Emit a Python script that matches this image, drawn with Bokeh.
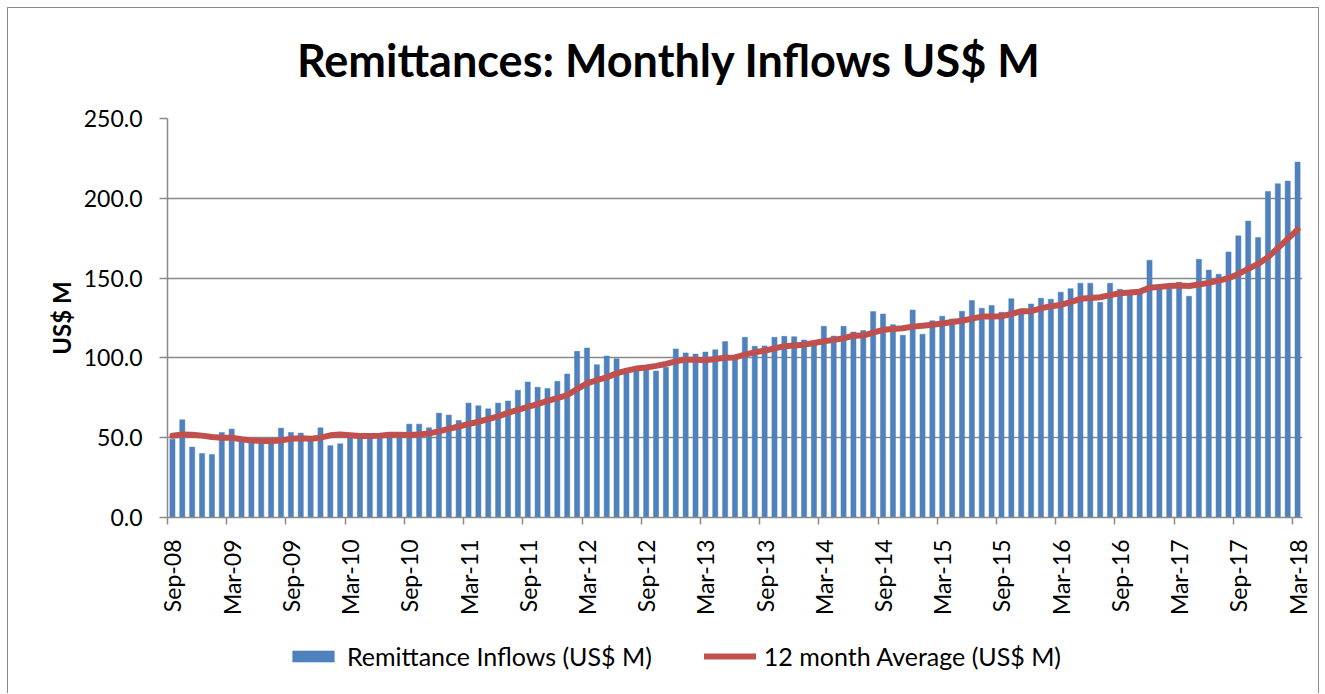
import math
from bokeh.plotting import figure
from bokeh.layouts import column
from bokeh.models import (Legend, LegendItem, FixedTicker, Label,
                          NumeralTickFormatter, ColumnDataSource)
from bokeh.embed import file_html
from bokeh.resources import INLINE

# ---------------- data ----------------
# monthly observations, Sep-2008 .. Mar-2018 (115 months)
inflows = [
    49.0, 61.2, 44.1, 40.1, 39.5, 53.3, 55.4, 48.0, 47.0, 46.5, 47.0, 56.0,
    53.3, 52.9, 48.0, 56.2, 45.0, 46.2, 50.0, 51.0, 51.0, 52.0, 52.0, 52.0,
    58.5, 58.5, 56.2, 65.4, 64.2, 60.8, 71.7, 70.0, 68.1, 71.7, 73.0, 79.7,
    84.9, 81.6, 80.9, 85.3, 89.9, 104.1, 106.2, 95.7, 101.2, 99.5, 91.0, 92.0,
    93.0, 91.8, 94.1, 105.6, 103.1, 102.4, 103.7, 105.1, 110.2, 99.5, 112.9, 107.3,
    107.5, 112.9, 113.5, 113.3, 111.2, 108.0, 119.8, 113.7, 119.8, 116.2, 117.1, 129.0,
    127.5, 120.8, 114.2, 130.0, 114.8, 123.3, 126.1, 124.4, 129.2, 135.9, 131.1, 132.8,
    128.6, 137.1, 130.7, 133.8, 137.4, 136.8, 141.2, 143.4, 146.8, 146.8, 134.8, 146.8,
    143.0, 140.5, 140.7, 161.2, 144.0, 143.2, 147.4, 138.6, 161.8, 155.0, 152.4, 166.4,
    176.5, 185.7, 175.4, 204.3, 209.1, 210.8, 222.7,
]
avg12 = [
    51.2, 52.0, 51.8, 51.3, 50.5, 50.0, 50.0, 49.0, 48.3, 48.0, 48.0, 48.2,
    49.4, 49.6, 49.3, 50.0, 51.5, 52.0, 51.5, 51.0, 51.0, 51.3, 51.8, 51.8,
    51.7, 52.0, 52.7, 54.0, 55.5, 57.0, 58.5, 60.0, 61.7, 63.4, 65.5, 67.5,
    69.3, 71.1, 73.0, 74.8, 76.7, 80.5, 84.0, 86.0, 87.8, 90.3, 92.0, 93.3,
    94.0, 95.0, 96.2, 97.8, 98.9, 98.8, 98.5, 99.3, 100.1, 100.3, 102.0, 103.5,
    104.5, 106.0, 107.3, 107.8, 108.3, 109.3, 110.4, 111.3, 112.3, 113.9, 114.0, 115.8,
    117.6, 118.1, 118.6, 119.6, 120.2, 120.8, 121.6, 122.5, 123.3, 124.6, 125.9, 126.0,
    126.1, 127.6, 129.2, 129.3, 131.0, 132.4, 133.2, 135.0, 137.0, 137.5, 138.0, 139.3,
    140.5, 141.0, 141.5, 143.9, 144.5, 145.1, 145.3, 145.1, 146.0, 147.0, 148.4, 149.9,
    152.6, 155.8, 158.9, 163.1, 168.8, 174.6, 180.4,
]
tick_labels = ["Sep-08", "Mar-09", "Sep-09", "Mar-10", "Sep-10", "Mar-11", "Sep-11",
               "Mar-12", "Sep-12", "Mar-13", "Sep-13", "Mar-14", "Sep-14", "Mar-15",
               "Sep-15", "Mar-16", "Sep-16", "Mar-17", "Sep-17", "Mar-18"]
y_ticks = [0, 50, 100, 150, 200, 250]
title_text = "Remittances: Monthly Inflows US$ M"
y_title = "US$ M"
series_names = ["Remittance Inflows (US$ M)", "12 month Average (US$ M)"]

# ---------------- styles ----------------
n = len(inflows)
idx = list(range(n))
src = ColumnDataSource(dict(x=idx, inflows=inflows, avg=avg12))

FONT = "Lato"
GRID = "#8A8A8A"
BLUE = "#4F81BD"
RED = "#C0504D"
BORDER = "1px solid #8A8A8A"
X_RANGE = (-0.5, n - 0.5)


def strip(height, y_range):
    f = figure(width=1312, height=height, x_range=X_RANGE, y_range=y_range,
               output_backend="svg", toolbar_location=None, title=None,
               x_axis_type=None, y_axis_type=None,
               min_border_left=159, min_border_right=18, min_border_top=0,
               min_border_bottom=0)
    f.outline_line_color = None
    f.xgrid.grid_line_color = None
    f.ygrid.grid_line_color = None
    return f


# ---------------- title strip ----------------
head = strip(97, (0, 97))
head.styles = {"margin-left": "7px", "margin-top": "7px",
               "border-top": BORDER, "border-left": BORDER, "border-right": BORDER}
head.add_layout(Label(x=50.3, y=46, text=title_text, text_font=FONT,
                      text_font_style="bold", text_font_size="45px",
                      text_align="center", text_baseline="alphabetic",
                      text_color="black"))

# ---------------- main chart ----------------
p = figure(width=1312, height=533, x_range=X_RANGE, y_range=(0, 250),
           output_backend="svg", toolbar_location=None, title=None,
           min_border_left=159, min_border_right=18, min_border_top=14,
           min_border_bottom=120)
p.styles = {"margin-left": "7px", "border-left": BORDER, "border-right": BORDER}
p.outline_line_color = None
p.background_fill_color = "white"
p.border_fill_color = "white"

bar_style = dict(fill_color=BLUE, line_color=BLUE, line_width=0.5)
line_style = dict(line_color=RED, line_width=6, line_join="round", line_cap="round")

p.vbar(x="x", top="inflows", width=0.52, source=src, **bar_style)
p.line(x="x", y="avg", source=src, **line_style)

# x axis
tick_pos = [6 * k for k in range(len(tick_labels))]
p.xaxis.ticker = FixedTicker(ticks=tick_pos,
                             minor_ticks=[t - 0.5 for t in tick_pos])
p.xaxis.major_label_overrides = {t: lab for t, lab in zip(tick_pos, tick_labels)}
p.xaxis.major_label_orientation = math.pi / 2
p.xaxis.major_tick_line_color = None
p.xaxis.major_tick_out = 0
p.xaxis.major_tick_in = 0
p.xaxis.minor_tick_line_color = GRID
p.xaxis.minor_tick_line_width = 1.5
p.xaxis.minor_tick_out = 7
p.xaxis.minor_tick_in = 0
p.xaxis.major_label_standoff = 15
p.xaxis.major_label_text_font = FONT
p.xaxis.major_label_text_font_size = "23px"
p.xaxis.major_label_text_color = "black"
p.xaxis.axis_line_color = GRID
p.xaxis.axis_line_width = 1.5

# y axis
p.yaxis.ticker = FixedTicker(ticks=y_ticks)
p.yaxis.formatter = NumeralTickFormatter(format="0.0")
p.yaxis.major_label_text_font = FONT
p.yaxis.major_label_text_font_size = "23px"
p.yaxis.major_label_text_color = "black"
p.yaxis.major_label_standoff = 17
p.yaxis.major_tick_out = 8
p.yaxis.major_tick_in = 0
p.yaxis.major_tick_line_color = GRID
p.yaxis.major_tick_line_width = 1.5
p.yaxis.minor_tick_line_color = None
p.yaxis.axis_line_color = GRID
p.yaxis.axis_line_width = 1.5
p.yaxis.axis_label = y_title
p.yaxis.axis_label_text_font = FONT
p.yaxis.axis_label_text_font_style = "bold"
p.yaxis.axis_label_text_font_size = "24px"
p.yaxis.axis_label_text_color = "black"
p.yaxis.axis_label_standoff = 5

p.xgrid.grid_line_color = None
p.ygrid.grid_line_color = GRID
p.ygrid.grid_line_width = 1.5

# ---------------- legend strip ----------------
leg = strip(56, (0, 250))
leg.styles = {"margin-left": "7px", "border-left": BORDER, "border-right": BORDER}
key_bar = leg.vbar(x="x", top="inflows", width=0.52, source=src, **bar_style)
key_line = leg.line(x="x", y="avg", source=src, **line_style)
key_bar.visible = False     # only their legend keys are shown
key_line.visible = False

legend = Legend(items=[LegendItem(label=series_names[0], renderers=[key_bar]),
                       LegendItem(label=series_names[1], renderers=[key_line])],
                location=(120, 22), orientation="horizontal",
                label_text_font=FONT, label_text_font_size="25px",
                label_text_color="black", glyph_width=52, glyph_height=14,
                label_standoff=8, spacing=52, padding=0, margin=0,
                border_line_color=None, background_fill_alpha=0,
                inactive_fill_alpha=0, click_policy="none")
leg.add_layout(legend, "center")

layout = column(head, p, leg, spacing=0)
open("out.html", "w").write(file_html(layout, INLINE))
